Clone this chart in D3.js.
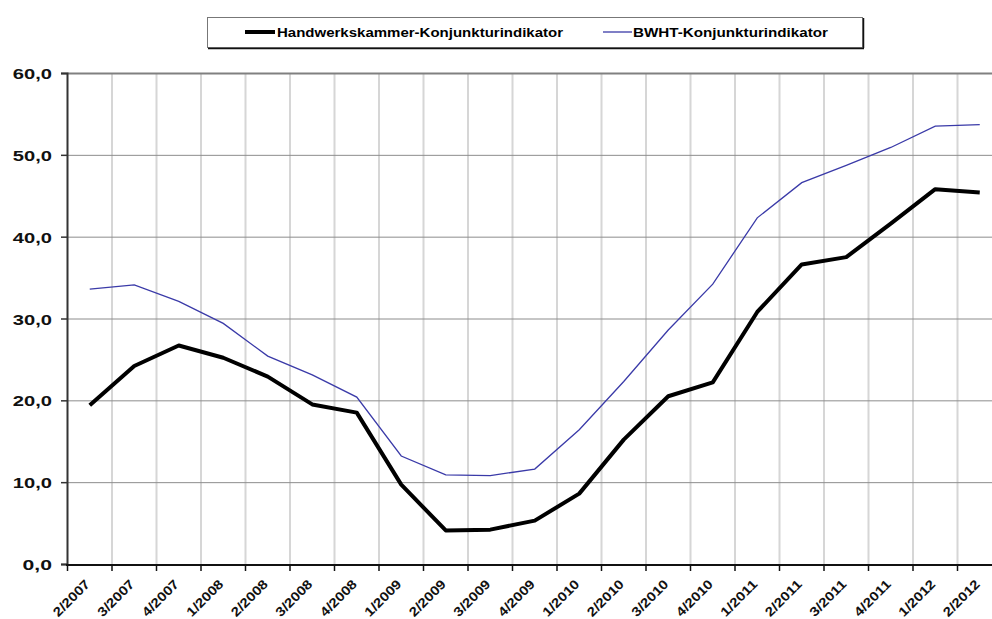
<!DOCTYPE html>
<html>
<head>
<meta charset="utf-8">
<script src="https://cdn.jsdelivr.net/npm/d3@7"></script>
<style>
  body { margin: 0; background: #fff; }
  svg { display: block; font-family: "Liberation Sans", Arial, sans-serif; font-weight: bold; }
</style>
</head>
<body>
<svg id="chart" width="992" height="619"></svg>
<script>
const quarters = ['2/2007', '3/2007', '4/2007', '1/2008', '2/2008', '3/2008', '4/2008',
  '1/2009', '2/2009', '3/2009', '4/2009', '1/2010', '2/2010', '3/2010', '4/2010',
  '1/2011', '2/2011', '3/2011', '4/2011', '1/2012', '2/2012'];
const hwkValues = [19.4, 24.2, 26.7, 25.2, 22.9, 19.5, 18.5, 9.7, 4.1, 4.2, 5.3,
  8.6, 15.2, 20.5, 22.2, 30.8, 36.6, 37.5, 41.6, 45.8, 45.4];
const bwhtValues = [33.6, 34.1, 32.1, 29.4, 25.4, 23.1, 20.4, 13.2, 10.9, 10.8, 11.6,
  16.4, 22.3, 28.6, 34.2, 42.3, 46.6, 48.7, 50.9, 53.5, 53.7];
const yTicks = [0, 10, 20, 30, 40, 50, 60];
const seriesNames = ['Handwerkskammer-Konjunkturindikator', 'BWHT-Konjunkturindikator'];

const svg = d3.select('#chart');

const x = d3.scaleBand().domain(quarters).range([67.5, 1002]).padding(0);
const y = d3.scaleLinear().domain([0, 60]).range([564, 73]);
const cx = (d) => x(d) + x.bandwidth() / 2;

// vertical grid at band edges
svg.append('g')
  .selectAll('line')
  .data(quarters.slice(1))
  .enter()
  .append('line')
  .attr('x1', (d) => x(d)).attr('x2', (d) => x(d))
  .attr('y1', y(60)).attr('y2', y(0))
  .attr('stroke', '#d6d6d6')
  .attr('stroke-width', 2);

// horizontal grid
svg.append('g')
  .selectAll('line')
  .data(yTicks.filter((d) => d > 0))
  .enter()
  .append('line')
  .attr('x1', 67).attr('x2', 992)
  .attr('y1', (d) => y(d) + 0.5).attr('y2', (d) => y(d) + 0.5)
  .attr('stroke', (d) => d === 60 ? '#808080' : '#8c8c8c')
  .attr('stroke-width', (d) => d === 60 ? 2 : 1);

// y axis
const yAxis = svg.append('g')
  .attr('transform', 'translate(67,0)')
  .call(d3.axisLeft(y)
    .tickValues(yTicks)
    .tickSize(6)
    .tickPadding(9)
    .tickFormat((d) => d.toFixed(1).replace('.', ',')));
yAxis.select('.domain').attr('stroke', '#333').attr('stroke-width', 2);
yAxis.selectAll('.tick line').attr('stroke', '#333').attr('stroke-width', 1.5);
yAxis.selectAll('.tick text')
  .attr('fill', '#111')
  .style('font-size', '15.5px')
  .style('font-weight', 'bold')
  .style('font-family', '"Liberation Sans", Arial, sans-serif')
  .attr('dy', '0.36em')
  .attr('textLength', (d) => d.toFixed(1).length * 9.8)
  .attr('lengthAdjust', 'spacingAndGlyphs');

// x axis line and ticks at band edges
svg.append('line')
  .attr('x1', 66).attr('x2', 992)
  .attr('y1', y(0) + 1).attr('y2', y(0) + 1)
  .attr('stroke', '#111')
  .attr('stroke-width', 2);

svg.append('g')
  .selectAll('line')
  .data(quarters)
  .enter()
  .append('line')
  .attr('x1', (d) => x(d)).attr('x2', (d) => x(d))
  .attr('y1', y(0) + 1).attr('y2', y(0) + 7)
  .attr('stroke', '#111')
  .attr('stroke-width', 1.5);

svg.append('g')
  .selectAll('text')
  .data(quarters)
  .enter()
  .append('text')
  .attr('transform', (d) => `translate(${cx(d) + 1},585) rotate(-45)`)
  .attr('text-anchor', 'end')
  .attr('fill', '#111')
  .style('font-size', '13px')
  .attr('textLength', 46)
  .attr('lengthAdjust', 'spacingAndGlyphs')
  .text((d) => d);

// lines
const line = (vals) => d3.line()
  .x((d, i) => cx(quarters[i]))
  .y((d) => y(d))(vals);

svg.append('path')
  .attr('d', line(bwhtValues))
  .attr('fill', 'none')
  .attr('stroke', '#3a3aa8')
  .attr('stroke-width', 1.3);

svg.append('path')
  .attr('d', line(hwkValues))
  .attr('fill', 'none')
  .attr('stroke', '#000')
  .attr('stroke-width', 4)
  .attr('stroke-linejoin', 'round');

// legend
const legend = svg.append('g');
legend.append('rect')
  .attr('x', 207.5).attr('y', 17.5)
  .attr('width', 655).attr('height', 30)
  .attr('fill', '#fff')
  .attr('stroke', '#777');
legend.append('path')
  .attr('d', 'M208,48.5H864M863.5,18V48')
  .attr('stroke', '#111')
  .attr('stroke-width', 1.5)
  .attr('fill', 'none');

legend.append('line')
  .attr('x1', 245).attr('x2', 275).attr('y1', 32).attr('y2', 32)
  .attr('stroke', '#000').attr('stroke-width', 4);
legend.append('text')
  .attr('x', 277).attr('y', 37)
  .style('font-size', '12.5px')
  .attr('textLength', 286)
  .attr('lengthAdjust', 'spacingAndGlyphs')
  .text(seriesNames[0]);

legend.append('line')
  .attr('x1', 603).attr('x2', 632).attr('y1', 32).attr('y2', 32)
  .attr('stroke', '#3a3aa8').attr('stroke-width', 1.3);
legend.append('text')
  .attr('x', 633).attr('y', 37)
  .style('font-size', '12.5px')
  .attr('textLength', 195)
  .attr('lengthAdjust', 'spacingAndGlyphs')
  .text(seriesNames[1]);
</script>
</body>
</html>
